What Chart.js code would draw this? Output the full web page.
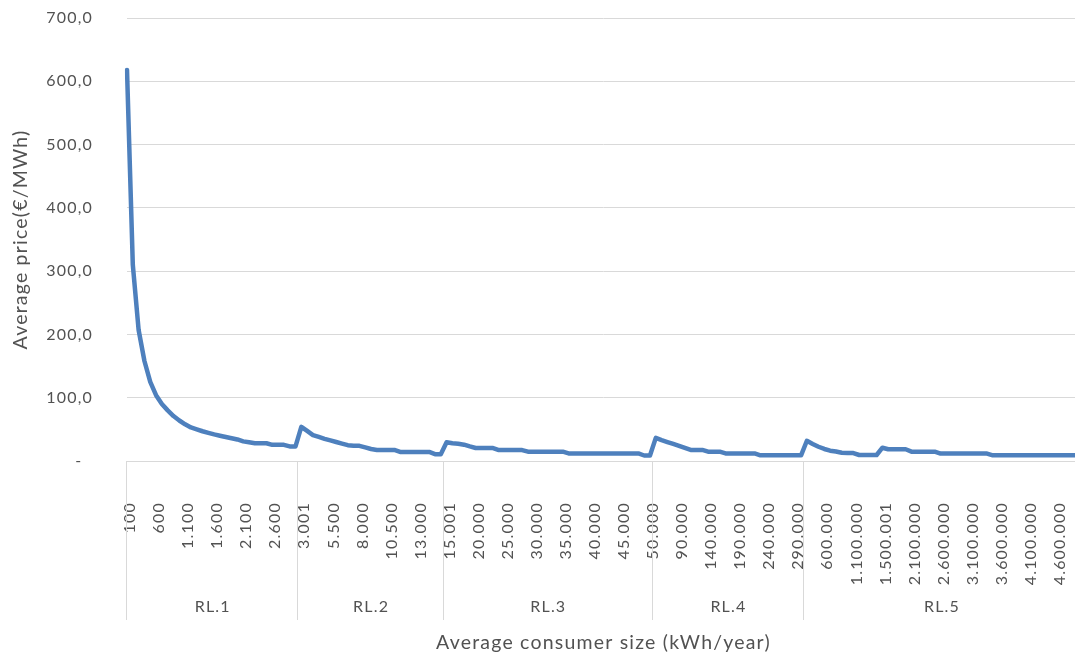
<!DOCTYPE html>
<html>
<head>
<meta charset="utf-8">
<script src="https://cdn.jsdelivr.net/npm/chart.js@4.4.1/dist/chart.umd.min.js"></script>
<style>
html,body{margin:0;padding:0;overflow:hidden;background:#fff;width:1075px;height:652px}
#wrap{width:1082px;height:652px}
canvas{display:block}
</style>
</head>
<body>
<div id="wrap"><canvas id="c" width="1082" height="652"></canvas></div>
<script>
// ---- data ----
const groupNames = ['RL.1', 'RL.2', 'RL.3', 'RL.4', 'RL.5'];

const rl1Sizes = [100, 200, 300, 400, 500, 600, 700, 800, 900, 1000, 1100, 1200, 1300, 1400, 1500, 1600, 1700, 1800, 1900, 2000, 2100, 2200, 2300, 2400, 2500, 2600, 2700, 2800, 2900, 3000];
const rl1Prices = [618, 310, 207, 158, 125, 104, 90, 80, 71, 64, 58, 53, 50, 47, 44.5, 42, 40, 38, 36, 34, 31, 29.5, 28, 28, 28, 25.5, 25.5, 25.5, 23, 23];

const rl2Sizes = [3001, 3500, 4000, 4500, 5000, 5500, 6000, 6500, 7000, 7500, 8000, 8500, 9000, 9500, 10000, 10500, 11000, 11500, 12000, 12500, 13000, 13500, 14000, 14500, 15000];
const rl2Prices = [54, 47.5, 41, 38, 35, 32.5, 30, 27.5, 25, 24, 24, 21.5, 19, 17.5, 17.5, 17.5, 17.5, 14.3, 14.3, 14.3, 14.3, 14.3, 14.3, 10.8, 10.8];

const rl3Sizes = [15001, 16000, 17000, 18000, 19000, 20000, 21000, 22000, 23000, 24000, 25000, 26000, 27000, 28000, 29000, 30000, 31000, 32000, 33000, 34000, 35000, 36000, 37000, 38000, 39000, 40000, 41000, 42000, 43000, 44000, 45000, 46000, 47000, 48000, 49000, 50000];
const rl3Prices = [29.5, 28, 27.3, 25.8, 23, 20.5, 20.5, 20.5, 20.5, 17.3, 17.3, 17.3, 17.3, 17.3, 14.7, 14.7, 14.7, 14.7, 14.7, 14.7, 14.7, 12, 12, 12, 12, 12, 12, 12, 12, 12, 12, 12, 12, 12, 8.7, 8.7];

const rl4Sizes = [50001, 60000, 70000, 80000, 90000, 100000, 110000, 120000, 130000, 140000, 150000, 160000, 170000, 180000, 190000, 200000, 210000, 220000, 230000, 240000, 250000, 260000, 270000, 280000, 290000, 300000];
const rl4Prices = [36.5, 33, 30, 27, 24, 20.7, 17.5, 17.5, 17.5, 14.7, 14.7, 14.7, 12, 12, 12, 12, 12, 12, 9, 9, 9, 9, 9, 9, 9, 9];

const rl5Sizes = [300001, 400000, 500000, 600000, 700000, 800000, 900000, 1000000, 1100000, 1200000, 1300000, 1400000, 1500000, 1500001, 1600000, 1700000, 1800000, 1900000, 2100000, 2200000, 2300000, 2400000, 2500000, 2600000, 2700000, 2800000, 2900000, 3000000, 3100000, 3200000, 3300000, 3400000, 3500000, 3600000, 3700000, 3800000, 3900000, 4000000, 4100000, 4200000, 4300000, 4400000, 4500000, 4600000, 4700000, 4800000, 4900000, 5000000];
const rl5Prices = [32, 27, 22.5, 19, 16.3, 15, 13, 12.5, 12.5, 9.5, 9.5, 9.5, 9.5, 21, 18.5, 18.5, 18.5, 18.5, 14.7, 14.7, 14.7, 14.7, 14.7, 11.8, 11.8, 11.8, 11.8, 11.8, 11.8, 11.8, 11.8, 11.8, 9, 9, 9, 9, 9, 9, 9, 9, 9, 9, 9, 9, 9, 9, 9, 9];

const yMin = 0, yMax = 700, yStep = 100;
const xTitle = 'Average consumer size (kWh/year)';
const yTitle = 'Average price(€/MWh)';

// ---- build ----
const sizeGroups = [rl1Sizes, rl2Sizes, rl3Sizes, rl4Sizes, rl5Sizes];
const priceGroups = [rl1Prices, rl2Prices, rl3Prices, rl4Prices, rl5Prices];
const categories = [].concat(...sizeGroups);
const prices = [].concat(...priceGroups);
const fmtSize = n => String(n).replace(/\B(?=(\d{3})+(?!\d))/g, '.');

const FONT = 'Lato, Carlito, Calibri, sans-serif';
const TXT = '#525252';
const GRID = '#d9d9d9';
const LS = '1.2px';

const spacingPlugin = {
  id: 'spacing',
  beforeUpdate(chart) { chart.ctx.letterSpacing = LS; },
  beforeLayout(chart) { chart.ctx.letterSpacing = LS; },
  beforeDraw(chart) { chart.ctx.letterSpacing = LS; }
};

const groupPlugin = {
  id: 'groups',
  afterDraw(chart) {
    const ctx = chart.ctx, area = chart.chartArea, xs = chart.scales.x;
    const edges = [xs.getPixelForValue(0)];
    let start = 0;
    sizeGroups.forEach((g, k) => {
      const end = start + g.length - 1;
      if (k < sizeGroups.length - 1) {
        edges.push((xs.getPixelForValue(end) + xs.getPixelForValue(end + 1)) / 2);
      } else {
        edges.push(xs.getPixelForValue(end));
      }
      start = end + 1;
    });
    ctx.save();
    ctx.letterSpacing = LS;
    ctx.strokeStyle = GRID;
    ctx.lineWidth = 1;
    const y0 = area.bottom, y1 = area.bottom + 159;
    edges.forEach(x => {
      const px = Math.round(x) - 0.5;
      ctx.beginPath(); ctx.moveTo(px, y0); ctx.lineTo(px, y1); ctx.stroke();
    });
    ctx.fillStyle = TXT;
    ctx.font = '16px ' + FONT;
    ctx.textAlign = 'center';
    ctx.textBaseline = 'middle';
    groupNames.forEach((n, k) => ctx.fillText(n, (edges[k] + edges[k + 1]) / 2, area.bottom + 146));
    ctx.restore();
  }
};

new Chart(document.getElementById('c'), {
  type: 'line',
  data: {
    labels: categories.map(fmtSize),
    datasets: [{
      data: prices,
      borderColor: '#4e80bd',
      borderWidth: 4.5,
      pointRadius: 0,
      tension: 0,
      fill: false,
      borderJoinStyle: 'round',
      borderCapStyle: 'round'
    }]
  },
  options: {
    responsive: false,
    animation: false,
    devicePixelRatio: 1,
    layout: { padding: { left: 0, right: 2, top: 18, bottom: 0 } },
    plugins: { legend: { display: false }, tooltip: { enabled: false } },
    scales: {
      x: {
        type: 'category',
        grid: { display: true, drawOnChartArea: false, drawTicks: false },
        border: { display: true, color: GRID, width: 1 },
        ticks: {
          autoSkip: false, maxRotation: 90, minRotation: 90, padding: 41, labelOffset: 3,
          color: TXT, font: { family: FONT, size: 16 },
          callback(v, i) { return i % 5 === 0 ? this.getLabelForValue(v) : ''; }
        },
        title: { display: true, text: xTitle, color: TXT, font: { family: FONT, size: 19.5 }, padding: { top: 0, bottom: -2 } },
        afterFit(s) { s.height = 191; s.paddingLeft = 0; s.paddingRight = 0; }
      },
      y: {
        min: yMin, max: yMax,
        ticks: {
          stepSize: yStep, padding: 34, color: TXT, font: { family: FONT, size: 16 },
          callback: v => v === 0 ? '-  ' : v.toFixed(1).replace('.', ',')
        },
        grid: { color: GRID, lineWidth: 1, drawTicks: false },
        border: { display: false },
        title: { display: true, text: yTitle, color: TXT, font: { family: FONT, size: 19.5 }, padding: { top: 9, bottom: 0 } },
        afterFit(s) { s.width = 127; s.paddingTop = 0; s.paddingBottom = 0; }
      }
    }
  },
  plugins: [spacingPlugin, groupPlugin]
});
</script>
</body>
</html>
